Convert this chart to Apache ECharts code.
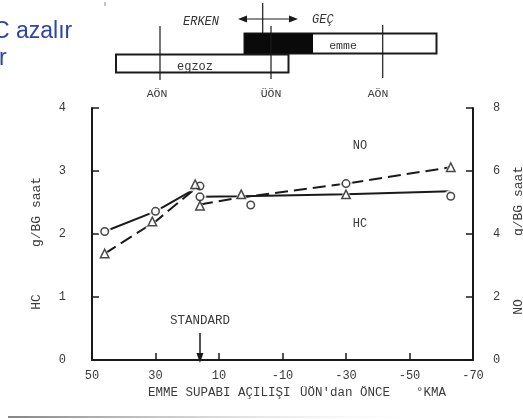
<!DOCTYPE html>
<html>
<head>
<meta charset="utf-8">
<script src="https://cdn.jsdelivr.net/npm/echarts@6/dist/echarts.min.js"></script>
<style>
  html, body { margin: 0; padding: 0; background: #ffffff; }
  #chart { width: 523px; height: 419px; }
</style>
</head>
<body>
<div id="chart"></div>
<script>
// Intake valve opening angle (degrees before TDC) on the x axis
const xTicks = [50, 30, 10, -10, -30, -50, -70];
const hcTicks = [0, 1, 2, 3, 4];
const noTicks = [0, 2, 4, 6, 8];

// HC curve (g/BG saat, left axis); '-' breaks the curve at the standard point
const hcLine = [[46, 2.04], [30, 2.36], [16, 2.76], '-', [16, 2.59], [3, 2.60], [-30, 2.63], [-63, 2.68]];
// NO curve (g/BG saat, right axis)
const noLine = [[46, 3.38], [30, 4.40], [16, 5.56], '-', [16, 4.94], [3, 5.16], [-30, 5.60], [-63, 6.12]];

// Measured points, read on the left scale
const circlePoints = [[46, 2.04], [30, 2.36], [16, 2.76], [16, 2.59], [0, 2.46], [-30, 2.80], [-63, 2.60]];
const trianglePoints = [[46, 1.69], [31, 2.20], [17.5, 2.79], [16, 2.45], [3, 2.63], [-30, 2.63], [-63, 3.06]];

// Standard intake valve opening
const standardOpening = 16;

const MONO = '"Liberation Mono", "DejaVu Sans Mono", monospace';
const INK = '#1a1a1a';
const GREY = '#3a3a3a';

const chart = echarts.init(document.getElementById('chart'), null, { renderer: 'canvas' });

function txt(x, y, s, opt) {
  return Object.assign({
    type: 'text', x: x, y: y,
    style: Object.assign({
      text: s, fill: GREY, font: '12px ' + MONO, align: 'center', verticalAlign: 'middle'
    }, opt && opt.style)
  }, opt && opt.el);
}
function seg(x1, y1, x2, y2, w, c) {
  return { type: 'line', shape: { x1: x1, y1: y1, x2: x2, y2: y2 }, style: { stroke: c || INK, lineWidth: w || 1.5 } };
}

const graphics = [
  // slide heading fragment
  txt(-7, 20, 'C azalır', { style: { fill: '#2b46a6', font: '23px "Liberation Sans", Arial, sans-serif', align: 'left', verticalAlign: 'alphabetic' } }),
  txt(-1, 47, 'r', { style: { fill: '#2b46a6', font: '23px "Liberation Sans", Arial, sans-serif', align: 'left', verticalAlign: 'alphabetic' } }),

  // valve timing schematic
  seg(105, 2, 105, 6, 1, '#888'),
  txt(201, 22, 'ERKEN', { style: { font: 'italic 12px ' + MONO, fill: '#333' } }),
  txt(312, 20, 'GEÇ', { style: { font: 'italic 12px ' + MONO, fill: '#333', align: 'left' } }),
  seg(262.7, 3, 262.7, 34, 1.2),
  seg(244, 19, 291, 19, 1.2),
  { type: 'polygon', shape: { points: [[238, 19], [247, 15.5], [247, 22.5]] }, style: { fill: INK } },
  { type: 'polygon', shape: { points: [[298, 19], [289, 15.5], [289, 22.5]] }, style: { fill: INK } },
  // exhaust bar
  { type: 'rect', shape: { x: 116, y: 54.5, width: 172.5, height: 18 }, style: { fill: '#fff', stroke: INK, lineWidth: 2 } },
  txt(195, 66.5, 'egzoz', { style: { font: '12px ' + MONO, fill: '#333' } }),
  // intake bar with overlap shaded
  { type: 'rect', shape: { x: 244.5, y: 33.5, width: 192, height: 20 }, style: { fill: '#fff', stroke: INK, lineWidth: 2 } },
  { type: 'rect', shape: { x: 244.5, y: 33.5, width: 68.5, height: 20 }, style: { fill: '#0a0a0a' } },
  txt(343, 46, 'emme', { style: { font: '11.5px ' + MONO, fill: '#333' } }),
  seg(160, 26, 160, 80, 1.2),
  seg(271, 26, 271, 79, 1.2),
  seg(382.7, 25, 382.7, 78, 1.2),
  txt(157, 94, 'AÖN', { style: { font: '11.5px ' + MONO } }),
  txt(271, 93.5, 'ÜÖN', { style: { font: '11.5px ' + MONO } }),
  txt(378, 93.5, 'AÖN', { style: { font: '11.5px ' + MONO } }),

  // curve labels
  txt(360, 146, 'NO', { style: { font: '12px ' + MONO } }),
  txt(360, 224, 'HC', { style: { font: '12px ' + MONO } }),

  // axis names (vertical)
  txt(37, 212, 'g/BG saat', { style: { font: '13px ' + MONO }, el: { rotation: Math.PI / 2 } }),
  txt(37, 302, 'HC', { style: { font: '13px ' + MONO }, el: { rotation: Math.PI / 2 } }),
  txt(519, 201, 'g/BG saat', { style: { font: '13px ' + MONO }, el: { rotation: Math.PI / 2 } }),
  txt(519, 307, 'NO', { style: { font: '13px ' + MONO }, el: { rotation: Math.PI / 2 } }),

  // x axis title
  txt(148, 393, 'EMME SUPABI AÇILIŞI', { style: { font: '12.5px ' + MONO, align: 'left' } }),
  txt(300, 393, "ÜÖN'dan ÖNCE", { style: { font: '12.5px ' + MONO, align: 'left' } }),
  txt(416, 393, '°KMA', { style: { font: '12.5px ' + MONO, align: 'left' } }),

  // page rule at the bottom
  {
    type: 'rect', shape: { x: 8, y: 416, width: 400, height: 2 },
    style: {
      fill: new echarts.graphic.LinearGradient(0, 0, 1, 0, [
        { offset: 0, color: 'rgba(120,120,120,0.9)' },
        { offset: 0.45, color: 'rgba(190,190,190,0.7)' },
        { offset: 1, color: 'rgba(230,230,230,0)' }
      ])
    }
  }
];

const valueAxisCommon = {
  type: 'value',
  axisLine: { show: true, onZero: false, lineStyle: { color: INK, width: 2 } },
  axisTick: { show: true, inside: true, length: 7, lineStyle: { color: INK, width: 1.5 } },
  splitLine: { show: false },
  axisLabel: { color: GREY, fontFamily: MONO, fontSize: 12 }
};

// white rings keep the curves clear of the plotted symbols
function halo(name, data, symbol, size) {
  return {
    name: name, type: 'scatter', yAxisIndex: 0, data: data,
    symbol: symbol, symbolSize: size, z: 4, silent: true,
    itemStyle: { color: '#fff', borderWidth: 0 }
  };
}

chart.setOption({
  backgroundColor: '#ffffff',
  animation: false,
  grid: { left: 92, right: 50, top: 108, bottom: 59 },
  xAxis: Object.assign({}, valueAxisCommon, {
    inverse: true,
    min: xTicks[xTicks.length - 1],
    max: xTicks[0],
    interval: 20,
    axisLabel: Object.assign({}, valueAxisCommon.axisLabel, { margin: 10 })
  }),
  yAxis: [
    Object.assign({}, valueAxisCommon, {
      position: 'left',
      min: hcTicks[0], max: hcTicks[hcTicks.length - 1], interval: 1,
      axisLabel: Object.assign({}, valueAxisCommon.axisLabel, { margin: 26 })
    }),
    Object.assign({}, valueAxisCommon, {
      position: 'right',
      min: noTicks[0], max: noTicks[noTicks.length - 1], interval: 2,
      axisLabel: Object.assign({}, valueAxisCommon.axisLabel, { margin: 20 })
    })
  ],
  graphic: graphics,
  series: [
    {
      name: 'HC', type: 'line', yAxisIndex: 0, data: hcLine,
      showSymbol: false, symbol: 'none', connectNulls: false,
      lineStyle: { color: INK, width: 2 },
      markLine: {
        silent: true,
        symbol: ['none', 'triangle'],
        symbolSize: [7, 10],
        lineStyle: { color: INK, width: 1.5, type: 'solid' },
        label: {
          show: true, position: 'start', formatter: 'STANDARD', distance: 6,
          color: GREY, fontFamily: MONO, fontSize: 12.5
        },
        data: [[{ coord: [standardOpening, 0.43] }, { coord: [standardOpening, 0.03] }]]
      }
    },
    {
      name: 'NO', type: 'line', yAxisIndex: 1, data: noLine,
      showSymbol: false, symbol: 'none', connectNulls: false,
      lineStyle: { color: INK, width: 2, type: [13, 6] }
    },
    halo('o-halo', circlePoints, 'circle', 13),
    halo('Δ-halo', trianglePoints, 'triangle', 14),
    {
      name: 'o', type: 'scatter', yAxisIndex: 0, data: circlePoints,
      symbol: 'circle', symbolSize: 7.5, z: 5,
      itemStyle: { color: '#fff', borderColor: INK, borderWidth: 1.5 }
    },
    {
      name: 'Δ', type: 'scatter', yAxisIndex: 0, data: trianglePoints,
      symbol: 'triangle', symbolSize: 8.5, z: 5,
      itemStyle: { color: '#fff', borderColor: INK, borderWidth: 1.5 }
    }
  ]
});
</script>
</body>
</html>
